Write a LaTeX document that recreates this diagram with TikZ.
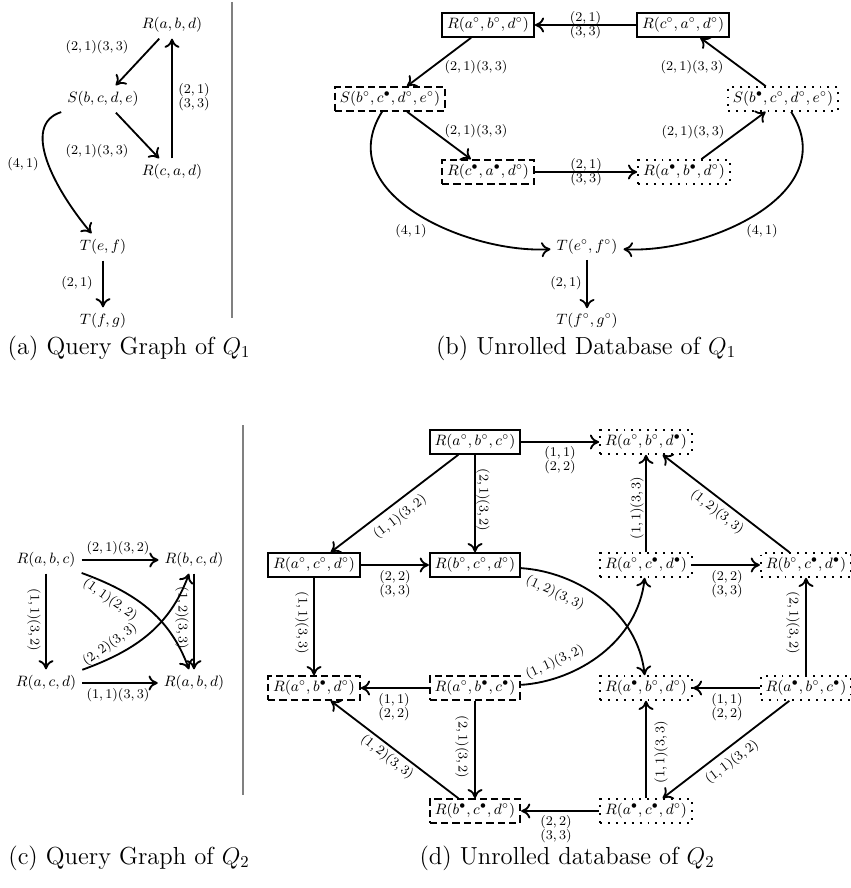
\documentclass[tikz,border=0pt]{standalone}
\usetikzlibrary{arrows.meta}
\begin{document}
\begin{tikzpicture}[x=0.6pt,y=-0.6pt,
  qn/.style={font=\fontsize{8.7}{10}\selectfont, inner xsep=3.5pt, inner ysep=3.5pt},
  tn/.style={font=\fontsize{9.1}{10}\selectfont, inner xsep=3.5pt, inner ysep=3pt},
  dn/.style={font=\fontsize{9.1}{10}\selectfont, inner xsep=3pt, inner ysep=2.6pt, line width=1.15pt},
  sbox/.style={dn, draw},
  dbox/.style={dn, draw, dash pattern=on 4.4pt off 2.4pt},
  obox/.style={dn, draw, dash pattern=on 1.15pt off 3.6pt},
  arr/.style={line width=1.1pt, -{Computer Modern Rightarrow[length=5.5pt,width=9pt]}},
  lbl/.style={font=\fontsize{8}{8.6}\selectfont, align=center, inner sep=0pt},
  captxt/.style={font=\fontsize{14.8}{17}\selectfont},
  seprule/.style={draw=gray, line width=0.9pt}
]
\useasboundingbox (0,0) rectangle (850,888);

% ---------- (a)
\node[qn] (a1) at (172,25) {$R(a,b,d)$};
\node[qn] (a2) at (103,99) {$S(b,c,d,e)$};
\node[qn] (a3) at (172,172) {$R(c,a,d)$};
\node[qn] (a4) at (103,247) {$T(e,f)$};
\node[qn] (a5) at (103,321) {$T(f,g)$};
\draw[arr] (a1) -- (a2) node[lbl] at (97,47) {$(2,1)(3,3)$};
\draw[arr] (a2) -- (a3) node[lbl] at (97,151) {$(2,1)(3,3)$};
\draw[arr] (a3) -- (a1) node[lbl] at (194,97) {$(2,1)$\\$(3,3)$};
\draw[arr] (a2) .. controls (20,125) and (55,190) .. (a4) node[lbl] at (23,164) {$(4,1)$};
\draw[arr] (a4) -- (a5) node[lbl] at (77,283) {$(2,1)$};
\coordinate (s1t) at (232,2);
\coordinate (s1b) at (232,318);
\draw[seprule] (s1t) -- (s1b);
\node[captxt] (capa) at (129,348) {(a) Query Graph of $Q_1$};

% ---------- (b)
\node[sbox] (b1) at (488,25) {$R(a^\circ,b^\circ,d^\circ)$};
\node[sbox] (b2) at (683,25) {$R(c^\circ,a^\circ,d^\circ)$};
\node[dbox] (b3) at (390,99) {$S(b^\circ,c^\bullet,d^\circ,e^\circ)$};
\node[obox] (b4) at (783,99) {$S(b^\bullet,c^\circ,d^\circ,e^\circ)$};
\node[dbox] (b5) at (488,172) {$R(c^\bullet,a^\bullet,d^\circ)$};
\node[obox] (b6) at (684,172) {$R(a^\bullet,b^\bullet,d^\circ)$};
\node[tn] (b7) at (587,247) {$T(e^\circ,f^\circ)$};
\node[tn] (b8) at (587,321) {$T(f^\circ,g^\circ)$};
\draw[arr] (b2) -- node[lbl] {$(2,1)$\\$(3,3)$} (b1);
\draw[arr] (b1) -- (b3) node[lbl] at (476,67) {$(2,1)(3,3)$};
\draw[arr] (b3) -- (b5) node[lbl] at (476,131) {$(2,1)(3,3)$};
\draw[arr] (b5) -- node[lbl] {$(2,1)$\\$(3,3)$} (b6);
\draw[arr] (b6) -- (b4) node[lbl] at (693,132) {$(2,1)(3,3)$};
\draw[arr] (b4) -- (b2) node[lbl] at (692,67) {$(2,1)(3,3)$};
\draw[arr] (b3) .. controls (330,195) and (470,254) .. (b7) node[lbl] at (411,231) {$(4,1)$};
\draw[arr] (b4) .. controls (844,195) and (704,254) .. (b7) node[lbl] at (762,231) {$(4,1)$};
\draw[arr] (b7) -- (b8) node[lbl] at (566,283) {$(2,1)$};
\node[captxt] (capb) at (586,348) {(b) Unrolled Database of $Q_1$};

% ---------- (c)
\node[qn] (c1) at (46,560) {$R(a,b,c)$};
\node[qn] (c2) at (194,560) {$R(b,c,d)$};
\node[qn] (c3) at (46,683) {$R(a,c,d)$};
\node[qn] (c4) at (194,683) {$R(a,b,d)$};
\draw[arr] (c1) -- (c2) node[lbl] at (118,548) {$(2,1)(3,2)$};
\draw[arr] (c1) -- (c3) node[lbl, rotate=-90] at (34,620) {$(1,1)(3,2)$};
\draw[arr] (c2) -- (c4) node[lbl, rotate=-90] at (182,618) {$(1,2)(3,3)$};
\draw[arr] (c3) -- (c4) node[lbl] at (118,695) {$(1,1)(3,3)$};
\draw[arr] (c1) to[out=-20, in=110] (c4);
\node[lbl, rotate=-35] (lc1) at (110,600) {$(1,1)(2,2)$};
\draw[arr] (c3) to[out=20, in=-110] (c2);
\node[lbl, rotate=35] (lc2) at (110,645) {$(2,2)(3,3)$};
\coordinate (s2t) at (243,425);
\coordinate (s2b) at (243,795);
\draw[seprule] (s2t) -- (s2b);
\node[captxt] (capc) at (129,858) {(c) Query Graph of $Q_2$};

% ---------- (d)
\node[sbox] (d1) at (475,442) {$R(a^\circ,b^\circ,c^\circ)$};
\node[obox] (d2) at (646,442) {$R(a^\circ,b^\circ,d^\bullet)$};
\node[sbox] (d3) at (314,565) {$R(a^\circ,c^\circ,d^\circ)$};
\node[sbox] (d4) at (475,565) {$R(b^\circ,c^\circ,d^\circ)$};
\node[obox] (d5) at (646,565) {$R(a^\circ,c^\bullet,d^\bullet)$};
\node[obox] (d6) at (806,565) {$R(b^\circ,c^\bullet,d^\bullet)$};
\node[dbox] (d7) at (314,688) {$R(a^\circ,b^\bullet,d^\circ)$};
\node[dbox] (d8) at (475,688) {$R(a^\circ,b^\bullet,c^\bullet)$};
\node[obox] (d9) at (646,688) {$R(a^\bullet,b^\circ,d^\circ)$};
\node[obox] (d10) at (806,688) {$R(a^\bullet,b^\circ,c^\bullet)$};
\node[dbox] (d11) at (475,811) {$R(b^\bullet,c^\bullet,d^\circ)$};
\node[obox] (d12) at (646,811) {$R(a^\bullet,c^\bullet,d^\circ)$};

\draw[arr] (d1) -- (d2) node[lbl] at (560,460) {$(1,1)$\\$(2,2)$};
\draw[arr] (d1) -- (d4) node[lbl, rotate=-90] at (483,500) {$(2,1)(3,2)$};
\draw[arr] (d1) -- (d3) node[lbl, rotate=37.5] at (400,517) {$(1,1)(3,2)$};
\draw[arr] (d3) -- (d4) node[lbl] at (395,584) {$(2,2)$\\$(3,3)$};
\draw[arr] (d3) -- (d7) node[lbl, rotate=-90] at (302,623) {$(1,1)(3,3)$};
\draw[arr] (d5) -- (d2) node[lbl, rotate=90] at (637,508) {$(1,1)(3,3)$};
\draw[arr] (d6) -- (d2) node[lbl, rotate=-37.5] at (717,512) {$(1,2)(3,3)$};
\draw[arr] (d5) -- (d6) node[lbl] at (727,584) {$(2,2)$\\$(3,3)$};
\draw[arr] (d10) -- (d6) node[lbl, rotate=-90] at (793,623) {$(2,1)(3,2)$};
\draw[arr] (d8) -- (d7) node[lbl] at (394,707) {$(1,1)$\\$(2,2)$};
\draw[arr] (d8) -- (d11) node[lbl, rotate=-90] at (462,747) {$(2,1)(3,2)$};
\draw[arr] (d11) -- (d7) node[lbl, rotate=-38] at (387,757) {$(1,2)(3,3)$};
\draw[arr] (d10) -- (d9) node[lbl] at (727,707) {$(1,1)$\\$(2,2)$};
\draw[arr] (d12) -- (d9) node[lbl, rotate=90] at (661,752) {$(1,1)(3,3)$};
\draw[arr] (d10) -- (d12) node[lbl, rotate=37] at (732,762) {$(1,1)(3,2)$};
\draw[arr] (d12) -- (d11) node[lbl] at (556,829) {$(2,2)$\\$(3,3)$};
\draw[arr] (d4) .. controls (578,572) and (638,612) .. (d9);
\node[lbl, rotate=-25] (ld1) at (555,593) {$(1,2)(3,3)$};
\draw[arr] (d8) .. controls (578,681) and (638,641) .. (d5);
\node[lbl, rotate=25] (ld2) at (555,662) {$(1,1)(3,2)$};
\node[captxt] (capd) at (567,858) {(d) Unrolled database of $Q_2$};
\end{tikzpicture}
\end{document}
